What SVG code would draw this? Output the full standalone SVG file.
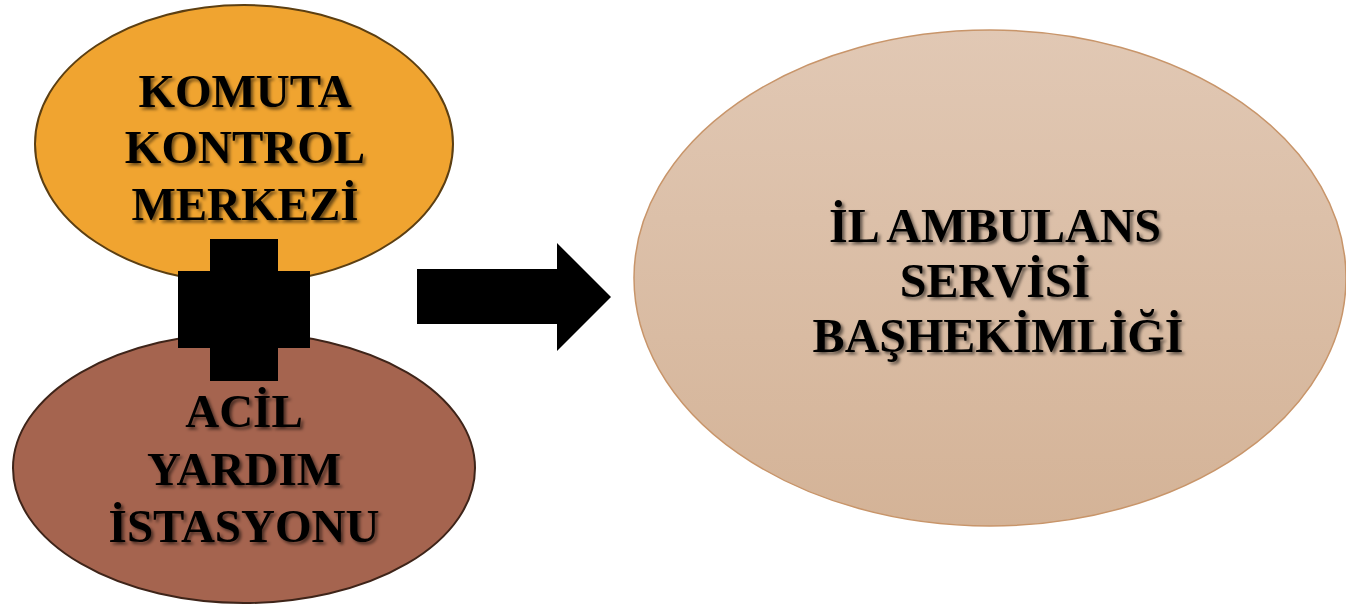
<svg xmlns="http://www.w3.org/2000/svg" width="1346" height="604" viewBox="0 0 1346 604">
<defs>
<linearGradient id="gBig" x1="0" y1="0" x2="0" y2="1">
<stop offset="0" stop-color="#E1C8B4"/>
<stop offset="1" stop-color="#D4B397"/>
</linearGradient>
<filter id="shadow" x="-10%" y="-20%" width="120%" height="150%">
<feDropShadow dx="2.5" dy="2.5" stdDeviation="1.6" flood-color="#000" flood-opacity="0.55"/>
</filter>
</defs>
<style>
.lbl{font-family:"Liberation Serif","Times New Roman",serif;font-weight:bold;font-size:47px;fill:#000;text-anchor:middle;filter:url(#shadow)}
.big{font-size:48px}
.mark{fill:#000}
</style>
<rect width="1346" height="604" fill="#fff"/>
<g id="node-komuta">
<ellipse cx="244" cy="144" rx="209" ry="139" fill="#F0A430" stroke="#5C3F12" stroke-width="2"/>
<text class="lbl" x="245" y="107">KOMUTA</text>
<text class="lbl" x="245" y="163">KONTROL</text>
<text class="lbl" x="245" y="220">MERKEZİ</text>
</g>
<g id="node-acil">
<ellipse cx="244" cy="468" rx="231" ry="135" fill="#A5644F" stroke="#3E2419" stroke-width="2"/>
<text class="lbl" x="244" y="427">ACİL</text>
<text class="lbl" x="244" y="485">YARDIM</text>
<text class="lbl" x="244" y="542">İSTASYONU</text>
</g>
<g id="node-il">
<ellipse cx="990" cy="278" rx="356" ry="248" fill="url(#gBig)" stroke="#C8956A" stroke-width="1.5"/>
<text class="lbl big" x="995" y="242">İL AMBULANS</text>
<text class="lbl big" x="995" y="297">SERVİSİ</text>
<text class="lbl big" x="998" y="352">BAŞHEKİMLİĞİ</text>
</g>
<g id="connectors">
<polygon class="mark" points="210,239 278,239 278,271 310,271 310,348 278,348 278,381 210,381 210,348 178,348 178,271 210,271"/>
<polygon class="mark" points="417,269 557,269 557,243 611,297 557,351 557,324 417,324"/>
</g>
</svg>
